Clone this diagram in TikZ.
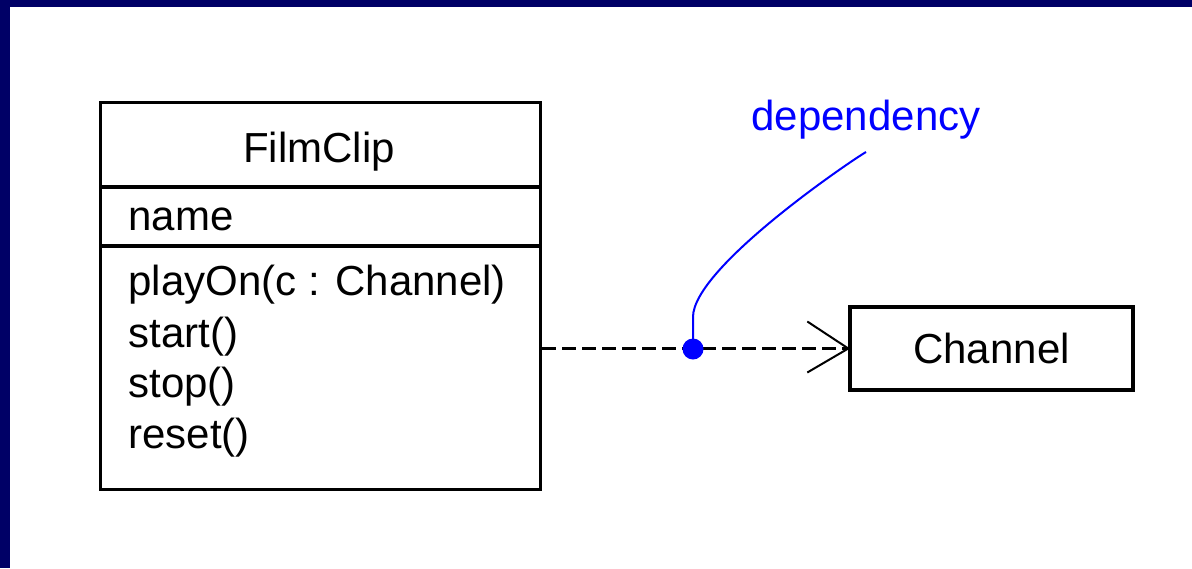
\documentclass[tikz,border=0pt]{standalone}
\usepackage{fontspec}
\setmainfont{Liberation Sans}
\definecolor{framenavy}{RGB}{0,0,102}
\begin{document}
\begin{tikzpicture}[x=0.5pt,y=-0.5pt,
  umlbox/.style={draw=black,line width=1.7pt,inner sep=0pt,rectangle},
  lbl/.style={font=\fontsize{21}{25}\selectfont,inner sep=0pt},
  depline/.style={line width=1.5pt,dash pattern=on 7pt off 3pt},
  tipline/.style={line width=1pt},
  noteline/.style={blue,line width=1pt}]
\useasboundingbox (0,0) rectangle (1192,568);
% slide background and frame
\fill[white] (0,0) rectangle (1192,568);
\fill[framenavy] (0,0) rectangle (1192,7);
\fill[framenavy] (0,0) rectangle (10,568);

% class FilmClip with its three compartments
\node[umlbox,minimum width=220pt,minimum height=193.5pt,anchor=north west] (filmclip) at (99,101) {};
\draw[line width=1.7pt] ([yshift=-43pt]filmclip.north west) -- ([yshift=-43pt]filmclip.north east);
\draw[line width=1.7pt] ([yshift=-72.5pt]filmclip.north west) -- ([yshift=-72.5pt]filmclip.north east);
\node[lbl,anchor=base] (title) at (319,162) {FilmClip};
\node[lbl,anchor=base west] (attr) at (128,230) {name};
\node[lbl,anchor=base west] (op1) at (128,295) {playOn(c : Channel)};
\node[lbl,anchor=base west] (op2) at (128,347) {start()};
\node[lbl,anchor=base west] (op3) at (128,397) {stop()};
\node[lbl,anchor=base west] (op4) at (128,448) {reset()};

% class Channel
\node[umlbox,lbl,line width=1.7pt,minimum width=141.5pt,minimum height=41.5pt] (channel) at (991.5,348.5) {Channel};

% dependency arrow with open head
\draw[depline] (filmclip.east |- channel.west) -- (channel.west);
\draw[tipline] ([xshift=-20.5pt,yshift=13.5pt]channel.west) -- (channel.west) -- ([xshift=-20.5pt,yshift=-12pt]channel.west);

% annotation
\node[circle,fill=blue,inner sep=0pt,minimum size=10.5pt] (joint) at (693,349) {};
\node[lbl,text=blue,anchor=base] (deplabel) at (866,130) {dependency};
\coordinate (noteend) at (866,152);
\draw[noteline] (joint.center) -- ++(0,-32) .. controls (693,268) and (849,162) .. (noteend);
\end{tikzpicture}
\end{document}
